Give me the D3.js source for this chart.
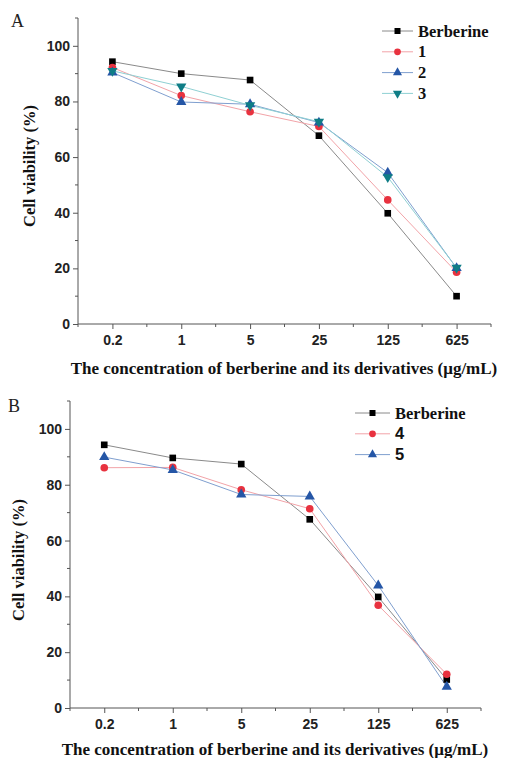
<!DOCTYPE html>
<html>
<head>
<meta charset="utf-8">
<script src="https://cdn.jsdelivr.net/npm/d3@7"></script>
<style>
  body { margin: 0; background: #fff; }
  svg { display: block; }
  .tick-label { font-family: 'Liberation Sans', Arial, sans-serif; font-weight: bold; font-size: 14px; fill: #222; }
  .title { font-family: 'Liberation Serif', 'Times New Roman', serif; font-weight: bold; fill: #111; }
</style>
</head>
<body>
<div id="chart"></div>
<script>
var concentrations = ['0.2', '1', '5', '25', '125', '625']
var yTicks = [0, 20, 40, 60, 80, 100]

// panel A
var berberineA = [94.3, 90.0, 87.7, 67.7, 39.8, 10.0]
var cmpd1 = [92.2, 82.1, 76.3, 71.0, 44.6, 18.6]
var cmpd2 = [90.4, 79.8, 79.0, 72.4, 54.4, 20.1]
var cmpd3 = [91.0, 85.4, 78.6, 72.7, 52.8, 20.2]

// panel B
var berberineB = [94.3, 89.6, 87.4, 67.6, 39.8, 10.2]
var cmpd4 = [86.1, 86.2, 78.2, 71.4, 36.8, 12.1]
var cmpd5 = [89.9, 85.3, 76.5, 75.8, 43.9, 7.6]

var styles = {
  berberine: {marker: 'square', fill: '#000', line: '#8a8a8a'},
  c1: {marker: 'circle', fill: '#e8323f', line: '#f2a3a8'},
  c2: {marker: 'triangle', fill: '#2556a6', line: '#7f9fcf'},
  c3: {marker: 'triangleDown', fill: '#0f7d86', line: '#8fd0d3'},
  c4: {marker: 'circle', fill: '#e8323f', line: '#f2a3a8'},
  c5: {marker: 'triangle', fill: '#2556a6', line: '#7f9fcf'}
}

var W = 506, H = 758
var svg = d3.select('#chart').append('svg').attr('width', W).attr('height', H)

function markerPath(type, size){
  var sym = {square: d3.symbolSquare, circle: d3.symbolCircle, triangle: d3.symbolTriangle, triangleDown: d3.symbolTriangle}[type]
  return d3.symbol(sym, size)()
}

function drawPanel(cfg){
  var g = svg.append('g')
  var x = d3.scalePoint().domain(concentrations).range([cfg.left, cfg.right]).padding(0.5)
  var y = d3.scaleLinear().domain([0, 110]).range([cfg.bottom, cfg.top])
  var step = x.step()

  // y axis
  var yAxis = g.append('g').attr('transform', `translate(${cfg.left},0)`)
    .call(d3.axisLeft(y).tickValues(yTicks).tickSize(5).tickPadding(3).tickFormat(d3.format('d')))
  yAxis.select('.domain').attr('stroke', '#555').attr('d', `M0,${y(110)}V${y(0)}`)
  yAxis.selectAll('.tick line').attr('stroke', '#555')
  yAxis.selectAll('.tick text').attr('class', 'tick-label')
  g.append('g').selectAll('line').data([10, 30, 50, 70, 90, 110]).join('line')
    .attr('x1', cfg.left - 3).attr('x2', cfg.left)
    .attr('y1', d => y(d)).attr('y2', d => y(d)).attr('stroke', '#555')

  // x axis
  var xAxis = g.append('g').attr('transform', `translate(0,${cfg.bottom})`)
    .call(d3.axisBottom(x).tickSize(5).tickPadding(6))
  xAxis.select('.domain').attr('stroke', '#555').attr('d', `M${cfg.left},0H${cfg.right}`)
  xAxis.selectAll('.tick line').attr('stroke', '#555')
  xAxis.selectAll('.tick text').attr('class', 'tick-label')
  var minor = concentrations.map(c => x(c) + step / 2)
  minor.unshift(x(concentrations[0]) - step / 2)
  g.append('g').selectAll('line').data(minor).join('line')
    .attr('x1', d => d).attr('x2', d => d)
    .attr('y1', cfg.bottom).attr('y2', cfg.bottom + 3).attr('stroke', '#555')

  // series
  var line = d3.line().x((d, i) => x(concentrations[i])).y(d => y(d))
  cfg.series.forEach(s => {
    var st = styles[s.key]
    g.append('path').datum(s.values).attr('d', line)
      .attr('fill', 'none').attr('stroke', st.line).attr('stroke-width', 1)
  })
  cfg.series.forEach(s => {
    var st = styles[s.key]
    g.append('g').selectAll('path').data(s.values).join('path')
      .attr('d', markerPath(st.marker, st.marker == 'square' ? 44 : 46))
      .attr('transform', (d, i) => `translate(${x(concentrations[i])},${y(d)})` + (st.marker == 'triangleDown' ? ' rotate(180)' : ''))
      .attr('fill', st.fill)
  })

  // legend
  var lg = g.append('g')
  cfg.series.forEach((s, i) => {
    var st = styles[s.key]
    var ly = cfg.legY + i * 20.8
    lg.append('line').attr('x1', cfg.legX).attr('x2', cfg.legX + cfg.legW)
      .attr('y1', ly).attr('y2', ly).attr('stroke', st.line).attr('stroke-width', 1)
    lg.append('path').attr('d', markerPath(st.marker, 36))
      .attr('transform', `translate(${cfg.legX + cfg.legW / 2},${ly})` + (st.marker == 'triangleDown' ? ' rotate(180)' : ''))
      .attr('fill', st.fill)
    lg.append('text').attr('x', cfg.legX + cfg.legW + 5).attr('y', ly + 5.5)
      .attr('class', 'title')
      .style('font-size', '16.5px')
      .style('font-family', s.sans ? "'Liberation Sans', Arial, sans-serif" : null)
      .text(s.name)
  })

  // titles
  g.append('text').attr('class', 'title').attr('x', cfg.xTitleX).attr('y', cfg.xTitleY)
    .attr('text-anchor', 'middle').style('font-size', '17px')
    .text('The concentration of berberine and its derivatives (μg/mL)')
  g.append('text').attr('class', 'title')
    .attr('transform', `translate(${cfg.yTitleX},${cfg.yTitleY}) rotate(-90)`)
    .attr('text-anchor', 'middle').style('font-size', '16.5px')
    .text('Cell viability (%)')
  g.append('text').attr('x', cfg.tagX).attr('y', cfg.tagY)
    .style('font-family', "'Liberation Serif', serif").style('font-size', '18px').attr('fill', '#222')
    .text(cfg.tag)
}

drawPanel({
  tag: 'A', tagX: 11, tagY: 27,
  left: 78, right: 491, top: 18, bottom: 324,
  xTitleX: 284, xTitleY: 374, yTitleX: 35, yTitleY: 166,
  legX: 382, legW: 31, legY: 31,
  series: [
    {key: 'berberine', name: 'Berberine', values: berberineA},
    {key: 'c1', name: '1', values: cmpd1},
    {key: 'c2', name: '2', values: cmpd2},
    {key: 'c3', name: '3', values: cmpd3}
  ]
})

drawPanel({
  tag: 'B', tagX: 8, tagY: 412,
  left: 70, right: 481, top: 401, bottom: 708,
  xTitleX: 275, xTitleY: 755, yTitleX: 24, yTitleY: 560,
  legX: 355, legW: 35, legY: 413,
  series: [
    {key: 'berberine', name: 'Berberine', values: berberineB},
    {key: 'c4', name: '4', values: cmpd4, sans: true},
    {key: 'c5', name: '5', values: cmpd5, sans: true}
  ]
})
</script>
</body>
</html>
